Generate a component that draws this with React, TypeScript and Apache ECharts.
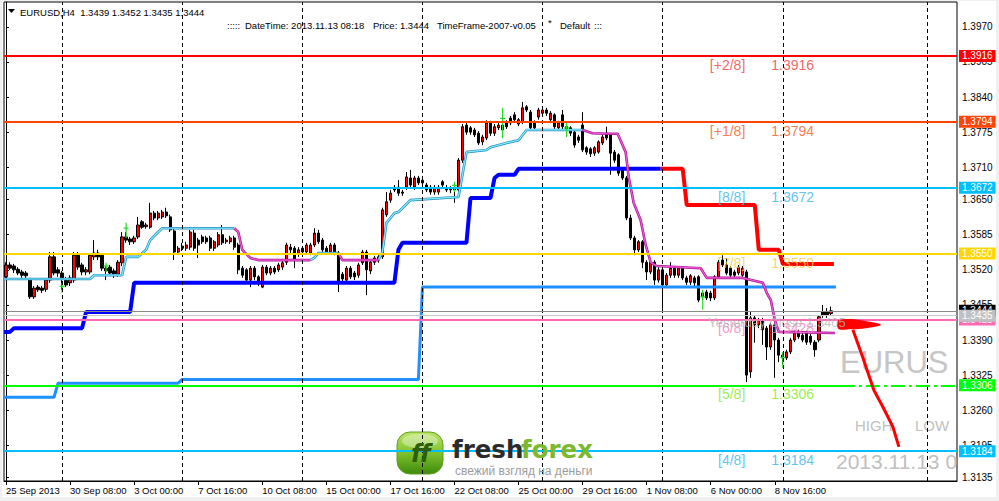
import { useEffect, useRef } from "react";
import * as echarts from "echarts";

// ---------------- DATA ----------------
const N_SLOTS = 238; // H4 bar slots visible on the chart (bars + right shift)
const xTickIndex = [0, 16, 32, 48, 64, 80, 96, 112, 128, 144, 160, 176, 192];
const xTickLabels = [
  "25 Sep 2013", "30 Sep 08:00", "3 Oct 00:00", "7 Oct 16:00", "10 Oct 08:00", "15 Oct 00:00",
  "17 Oct 16:00", "22 Oct 08:00", "25 Oct 00:00", "29 Oct 16:00", "1 Nov 08:00", "6 Nov 00:00", "8 Nov 16:00",
];
const yTickValues = [1.3135, 1.3195, 1.326, 1.3325, 1.339, 1.3455, 1.352, 1.3585, 1.365, 1.371, 1.3775, 1.384, 1.3905, 1.397];
const Y_MIN = 1.31289;
const Y_MAX = 1.4016;

// candles, in pips (1.xxxx -> xxxx)
const openPips = [
  3507, 3529, 3527, 3521, 3516, 3514, 3501, 3470, 3488, 3486,
  3484, 3501, 3544, 3520, 3514, 3501, 3496, 3501, 3547, 3529,
  3516, 3516, 3544, 3551, 3547, 3523, 3525, 3518, 3512, 3533,
  3581, 3577, 3572, 3581, 3609, 3600, 3599, 3625, 3616, 3618,
  3627, 3618, 3592, 3553, 3564, 3560, 3562, 3588, 3575, 3581,
  3579, 3579, 3560, 3566, 3585, 3572, 3572, 3579, 3566, 3523,
  3520, 3501, 3523, 3507, 3488, 3525, 3514, 3523, 3520, 3525,
  3534, 3562, 3560, 3549, 3560, 3553, 3551, 3566, 3588, 3575,
  3560, 3553, 3566, 3551, 3512, 3501, 3523, 3514, 3510, 3533,
  3553, 3518, 3534, 3538, 3544, 3622, 3649, 3673, 3673, 3664,
  3673, 3690, 3673, 3690, 3686, 3677, 3673, 3664, 3664, 3683,
  3672, 3668, 3672, 3668, 3723, 3788, 3783, 3779, 3773, 3757,
  3764, 3792, 3773, 3783, 3788, 3794, 3801, 3807, 3790, 3794,
  3822, 3812, 3794, 3803, 3810, 3816, 3798, 3807, 3783, 3807,
  3785, 3783, 3775, 3766, 3788, 3746, 3744, 3736, 3738, 3755,
  3773, 3770, 3738, 3733, 3705, 3690, 3616, 3579, 3557, 3572,
  3534, 3516, 3534, 3501, 3520, 3492, 3510, 3523, 3510, 3523,
  3505, 3497, 3505, 3507, 3470, 3479, 3477, 3468, 3507, 3538,
  3529, 3523, 3516, 3514, 3510, 3516, 3331, 3431, 3418, 3427,
  3412, 3377, 3418, 3390, 3362, 3357, 3368, 3390, 3405, 3399,
  3403, 3397, 3386, 3390, 3442, 3442, 3439,
];
const closePips = [
  3529, 3523, 3520, 3514, 3510, 3509, 3470, 3486, 3483, 3482,
  3501, 3544, 3514, 3514, 3505, 3492, 3505, 3547, 3525, 3516,
  3520, 3547, 3551, 3544, 3523, 3518, 3514, 3510, 3534, 3581,
  3575, 3572, 3579, 3603, 3599, 3603, 3625, 3616, 3625, 3627,
  3620, 3594, 3553, 3560, 3560, 3566, 3590, 3560, 3566, 3572,
  3572, 3560, 3572, 3585, 3570, 3575, 3579, 3562, 3520, 3510,
  3501, 3523, 3507, 3496, 3525, 3514, 3523, 3516, 3529, 3533,
  3566, 3557, 3538, 3557, 3553, 3566, 3566, 3588, 3572, 3557,
  3553, 3566, 3551, 3497, 3503, 3523, 3507, 3507, 3529, 3553,
  3520, 3534, 3542, 3544, 3631, 3646, 3662, 3668, 3662, 3662,
  3692, 3677, 3690, 3681, 3681, 3668, 3664, 3672, 3673, 3677,
  3668, 3672, 3668, 3723, 3785, 3775, 3775, 3770, 3755, 3766,
  3792, 3773, 3785, 3788, 3779, 3785, 3792, 3798, 3798, 3820,
  3816, 3783, 3783, 3816, 3816, 3810, 3810, 3785, 3792, 3785,
  3781, 3773, 3751, 3760, 3742, 3738, 3735, 3746, 3757, 3766,
  3764, 3736, 3723, 3699, 3690, 3616, 3579, 3557, 3572, 3534,
  3516, 3534, 3501, 3520, 3492, 3510, 3523, 3510, 3523, 3505,
  3497, 3509, 3496, 3464, 3477, 3468, 3468, 3507, 3534, 3529,
  3514, 3510, 3510, 3525, 3523, 3325, 3431, 3418, 3427, 3409,
  3377, 3418, 3390, 3362, 3357, 3368, 3390, 3405, 3396, 3390,
  3386, 3386, 3372, 3433, 3436, 3436, 3444,
];
const lowPips = [
  3501, 3520, 3514, 3510, 3505, 3505, 3466, 3466, 3479, 3477,
  3479, 3496, 3510, 3507, 3483, 3488, 3490, 3496, 3520, 3510,
  3510, 3512, 3538, 3538, 3518, 3501, 3509, 3505, 3507, 3527,
  3570, 3566, 3568, 3577, 3596, 3596, 3596, 3612, 3612, 3614,
  3616, 3590, 3538, 3549, 3555, 3555, 3557, 3555, 3542, 3568,
  3568, 3555, 3555, 3562, 3566, 3568, 3568, 3557, 3512, 3505,
  3496, 3488, 3501, 3490, 3486, 3510, 3510, 3512, 3516, 3520,
  3529, 3551, 3523, 3544, 3549, 3549, 3547, 3562, 3568, 3553,
  3549, 3549, 3547, 3479, 3497, 3496, 3503, 3501, 3505, 3529,
  3473, 3512, 3529, 3533, 3540, 3618, 3644, 3664, 3657, 3657,
  3668, 3673, 3668, 3677, 3677, 3664, 3659, 3659, 3659, 3673,
  3664, 3662, 3644, 3664, 3718, 3770, 3770, 3766, 3751, 3751,
  3760, 3768, 3768, 3779, 3764, 3781, 3788, 3794, 3786, 3790,
  3812, 3779, 3779, 3798, 3805, 3805, 3794, 3781, 3779, 3779,
  3776, 3768, 3746, 3755, 3738, 3733, 3729, 3731, 3735, 3751,
  3760, 3696, 3718, 3694, 3686, 3612, 3575, 3547, 3553, 3523,
  3501, 3512, 3492, 3496, 3446, 3486, 3505, 3505, 3505, 3501,
  3492, 3492, 3490, 3460, 3464, 3464, 3462, 3464, 3503, 3525,
  3510, 3505, 3505, 3510, 3507, 3312, 3320, 3385, 3412, 3381,
  3353, 3372, 3320, 3349, 3344, 3353, 3364, 3386, 3392, 3386,
  3381, 3381, 3359, 3386, 3431, 3431, 3435,
];
const highPips = [
  3534, 3534, 3531, 3525, 3520, 3518, 3505, 3490, 3492, 3490,
  3505, 3553, 3553, 3525, 3518, 3507, 3510, 3553, 3553, 3533,
  3525, 3551, 3575, 3557, 3551, 3527, 3529, 3522, 3538, 3590,
  3590, 3581, 3583, 3618, 3612, 3607, 3644, 3629, 3629, 3631,
  3635, 3622, 3596, 3564, 3570, 3572, 3594, 3594, 3579, 3585,
  3583, 3583, 3575, 3590, 3603, 3579, 3583, 3583, 3570, 3527,
  3523, 3527, 3527, 3510, 3529, 3529, 3527, 3527, 3533, 3538,
  3570, 3568, 3564, 3562, 3564, 3570, 3570, 3597, 3594, 3579,
  3564, 3570, 3570, 3555, 3516, 3527, 3527, 3518, 3533, 3557,
  3557, 3538, 3546, 3547, 3635, 3664, 3668, 3677, 3686, 3668,
  3701, 3705, 3694, 3694, 3690, 3681, 3677, 3677, 3677, 3686,
  3677, 3675, 3675, 3727, 3790, 3794, 3786, 3783, 3777, 3770,
  3797, 3796, 3790, 3794, 3792, 3797, 3805, 3812, 3801, 3831,
  3825, 3816, 3797, 3820, 3820, 3820, 3814, 3810, 3796, 3816,
  3790, 3786, 3779, 3770, 3812, 3749, 3747, 3749, 3760, 3770,
  3785, 3773, 3742, 3736, 3708, 3694, 3622, 3583, 3575, 3575,
  3538, 3540, 3538, 3525, 3525, 3514, 3534, 3527, 3527, 3527,
  3509, 3512, 3509, 3510, 3481, 3483, 3481, 3510, 3538, 3547,
  3542, 3527, 3520, 3529, 3527, 3520, 3442, 3436, 3431, 3431,
  3416, 3422, 3422, 3394, 3366, 3372, 3394, 3409, 3409, 3403,
  3407, 3401, 3390, 3436, 3455, 3449, 3452,
];

// indicator lines: [bar index, pips]
const blueStop = [[-0.5, 3405], [1, 3405], [2, 3412], [19, 3412], [20, 3442], [31, 3442], [32, 3496], [97, 3496], [98, 3557], [99, 3570], [115, 3570], [116, 3653], [121, 3653], [122, 3690], [123, 3696], [127, 3696], [128, 3707], [163.5, 3707]];
const redStop = [[163.5, 3707], [169, 3707], [170, 3640], [187, 3640], [188, 3557], [193, 3557], [194, 3531], [206.75, 3531]];
const dodgerStop = [[-0.5, 3284], [12, 3284], [13, 3310], [43, 3310], [44, 3317], [103, 3317], [104, 3488], [207.25, 3488]];
const trailUp1 = [[-0.5, 3503], [21, 3503], [22, 3510], [29, 3510], [30, 3544], [33, 3544], [35, 3557], [36, 3575], [38, 3590], [39, 3597], [57, 3597]];
const trailDown1 = [[57, 3597], [58, 3590], [59, 3557], [61, 3542], [63, 3538], [76, 3538]];
const trailUp2 = [[76, 3538], [77, 3542], [78, 3551], [83, 3551]];
const trailDown2 = [[83, 3551], [84, 3538], [93, 3538]];
const trailUp3 = [[93, 3538], [94, 3553], [95, 3607], [96, 3616], [97, 3625], [98, 3627], [99, 3634], [101, 3649], [113, 3655], [115, 3738], [120, 3742], [121, 3747], [125, 3755], [128, 3760], [130, 3779], [144, 3779]];
const trailDown3 = [[144, 3779], [146.5, 3773], [150, 3772], [152.75, 3772], [154.75, 3738], [155.5, 3692], [156.75, 3644], [158.5, 3612], [159.75, 3566], [161, 3534], [162.5, 3527], [173.5, 3523], [175, 3505], [184, 3505], [189, 3496], [190, 3477], [191, 3464], [192, 3427], [193, 3405], [207, 3403]];

// fractal markers: bar index, top pips, bottom pips
const fractalIdx = [14, 25, 30, 112, 124, 140, 174, 194];
const fractalTop = [3496, 3533, 3607, 3683, 3820, 3792, 3483, 3368];
const fractalBottom = [3477, 3516, 3579, 3664, 3764, 3766, 3446, 3338];

// forecast
const forecastLine = [[211.5, 3409], [214, 3357], [216.75, 3297], [219, 3266], [221.5, 3229], [223, 3192]];
const forecastWedge = [[207.5, 3420], [208, 3427], [211, 3429], [214.75, 3425], [218.5, 3418], [214.75, 3412], [211, 3410], [208, 3410]];

// week separators
const weekSeparatorIdx = [14, 44, 74, 104, 134, 164, 194, 230];

// Murrey levels
const levelNames = ["[+2/8]", "[+1/8]", "[8/8]", "[7/8]", "[6/8]", "[5/8]", "[4/8]"];
const levelValues = [1.3916, 1.3794, 1.3672, 1.355, 1.3428, 1.3306, 1.3184];
const bidPrice = 1.3444;
const lowPrice = 1.3435;
const yesterdayClose = 1.3405;
const dateTimeText = "2013.11.13 08:18";

// ---------------- STYLE ----------------
const FONT = '"Liberation Sans", Arial, sans-serif';
const levelLineColors = ["#FF0000", "#FF4500", "#00BFFF", "#FFD700", "#FF69B4", "#00FF00", "#00BFFF"];
const levelTextColors = ["#EE3B3B", "#F25A1E", "#36B4EE", "#F2CF45", "#F27EC0", "#80E81A", "#36B4EE"];
const LEVEL_NAME_IDX = 184.75;
const LEVEL_VALUE_IDX = 191;
const LIME_SOLID_END = 208.5;

const P = (pips: number) => Math.round((1 + pips / 10000) * 100000) / 100000;
const fmt = (v: number) => v.toFixed(4);

function buildOption() {
  const candles = openPips.map((o, i) => [P(o), P(closePips[i]), P(lowPips[i]), P(highPips[i])]);
  const categories = Array.from({ length: N_SLOTS }, (_, i) => String(i));
  const last = candles.length - 1;
  const header1 = `EURUSD,H4  ${fmt(P(openPips[last]))} ${fmt(P(highPips[last]))} ${fmt(P(lowPips[last]))} ${fmt(P(closePips[last]))}`;

  const tag = (bg: string) => ({
    show: true, position: "end", distance: 2, color: "#FFFFFF", backgroundColor: bg,
    padding: [1, 3, 1, 3], fontSize: 10, fontFamily: FONT, lineHeight: 10,
  });

  const line = (pts: number[][], color: string, width: number, z: number) => ({
    type: "line", xAxisIndex: 1, yAxisIndex: 0, silent: true, symbol: "none", z,
    data: pts.map(([x, v]) => [x, P(v)]), lineStyle: { color, width }, animation: false,
  });

  const trail: any[] = [];
  const ups = [trailUp1, trailUp2, trailUp3];
  const downs = [trailDown1, trailDown2, trailDown3];
  ups.forEach((s) => { trail.push(line(s, "#2C86BC", 2.6, 3)); trail.push(line(s, "#7DF2FF", 1.2, 3)); });
  downs.forEach((s) => { trail.push(line(s, "#A3168C", 2.6, 3)); trail.push(line(s, "#F25ADC", 1.2, 3)); });

  const levelMarks: any[] = [];
  levelValues.forEach((v, k) => {
    if (k === 5) {
      levelMarks.push([
        { coord: [-0.5, v], lineStyle: { color: levelLineColors[k], width: 2, type: "solid" }, label: { show: false } },
        { coord: [LIME_SOLID_END, v] },
      ]);
      levelMarks.push([
        { coord: [LIME_SOLID_END, v], lineStyle: { color: levelLineColors[k], width: 2, type: [14, 4, 3, 4] }, label: { ...tag(levelLineColors[k]), formatter: fmt(v) } },
        { coord: [N_SLOTS - 0.5, v] },
      ]);
    } else {
      levelMarks.push({ yAxis: v, lineStyle: { color: levelLineColors[k], width: 2, type: "solid" }, label: { ...tag(levelLineColors[k]), formatter: fmt(v) } });
    }
  });

  const levelText = levelValues.map((v, k) => ({
    type: "scatter", xAxisIndex: 1, yAxisIndex: 0, silent: true, z: 9, symbolSize: 1,
    itemStyle: { color: "rgba(0,0,0,0)" },
    data: [
      { value: [LEVEL_NAME_IDX, v], label: { show: true, position: "left", distance: 0, offset: [0, 9], formatter: levelNames[k], color: levelTextColors[k], fontSize: 14, fontFamily: FONT } },
      { value: [LEVEL_VALUE_IDX, v], label: { show: true, position: "right", distance: 0, offset: [0, 9], formatter: fmt(v), color: levelTextColors[k], fontSize: 14, fontFamily: FONT } },
    ],
  }));

  const txt = (x: number, y: number, text: string, size: number, fill = "#000000", extra: any = {}) => ({
    type: "text", silent: true, z: extra.z ?? 20,
    style: {
      text, x, y, fill, fontSize: size, fontFamily: extra.fontFamily ?? FONT, fontWeight: extra.fontWeight ?? "normal",
      fontStyle: extra.fontStyle ?? "normal", align: extra.align ?? "left", textAlign: extra.align ?? "left",
      verticalAlign: "middle", textVerticalAlign: "middle",
    },
  });

  const grey = "#F0F0F0";
  const mark = (data: any[]) => ({ silent: true, symbol: ["none", "none"], precision: 5, data });

  return {
    animation: false,
    backgroundColor: "#FFFFFF",
    grid: { left: 4, right: 42, top: 2, bottom: 20, show: true, borderColor: "#000000", borderWidth: 1, backgroundColor: "#FFFFFF" },
    xAxis: [
      {
        type: "category", data: categories, boundaryGap: true, gridIndex: 0,
        axisLine: { show: true, lineStyle: { color: "#000000", width: 1 } },
        axisTick: { show: true, alignWithLabel: true, length: 4, interval: (idx: number) => xTickIndex.includes(idx), lineStyle: { color: "#000000" } },
        axisLabel: {
          show: true, interval: (idx: number) => xTickIndex.includes(idx), align: "left", margin: 4,
          color: "#000000", fontSize: 9.5, fontFamily: FONT,
          formatter: (_v: string, idx: number) => { const k = xTickIndex.indexOf(idx); return k >= 0 ? xTickLabels[k] : ""; },
        },
        splitLine: { show: false },
      },
      { type: "value", min: -0.5, max: N_SLOTS - 0.5, show: false, gridIndex: 0 },
    ],
    yAxis: {
      type: "value", position: "right", min: Y_MIN, max: Y_MAX, scale: true,
      splitLine: { show: false },
      axisLine: { show: true, lineStyle: { color: "#000000", width: 1 } },
      axisTick: { show: true, length: 3, customValues: yTickValues, lineStyle: { color: "#000000" } },
      axisLabel: { show: true, customValues: yTickValues, formatter: (v: number) => fmt(v), color: "#000000", fontSize: 10, fontFamily: FONT, margin: 5 },
    },
    series: [
      {
        type: "line", xAxisIndex: 1, yAxisIndex: 0, silent: true, z: 1, symbol: "none",
        data: [[-0.5, P(3500)]], lineStyle: { opacity: 0 },
        markLine: {
          ...mark(weekSeparatorIdx.map((x) => ({ xAxis: x }))),
          label: { show: false },
          lineStyle: { color: "#000000", width: 1, type: [4, 3] },
        },
      },
      {
        type: "candlestick", xAxisIndex: 0, yAxisIndex: 0, silent: true, z: 2, data: candles, barWidth: 2.8,
        itemStyle: { color: "#FF0000", color0: "#000000", borderColor: "#000000", borderColor0: "#000000", borderWidth: 1 },
      },
      line(dodgerStop, "#1E90FF", 3, 3),
      line(blueStop, "#0000FF", 4, 3),
      line(redStop, "#FF0000", 4, 3),
      ...trail,
      {
        type: "custom", xAxisIndex: 1, yAxisIndex: 0, silent: true, z: 4,
        data: fractalIdx.map((x, k) => [x, P(fractalTop[k]), P(fractalBottom[k])]),
        encode: { x: 0, y: [1, 2] },
        renderItem: (_params: any, api: any) => {
          const x = api.value(0);
          const a = api.coord([x, api.value(1)]);
          const b = api.coord([x, api.value(2)]);
          const cy = a[1] + (b[1] - a[1]) * 0.35;
          return {
            type: "group",
            children: [
              { type: "line", shape: { x1: a[0], y1: a[1], x2: b[0], y2: b[1] }, style: { stroke: "#22DD22", lineWidth: 1.2 } },
              { type: "line", shape: { x1: a[0] - 2.5, y1: cy, x2: a[0] + 2.5, y2: cy }, style: { stroke: "#22DD22", lineWidth: 1.2 } },
            ],
          };
        },
      },
      {
        type: "line", xAxisIndex: 1, yAxisIndex: 0, silent: true, z: 6, symbol: "none",
        data: [[-0.5, bidPrice]], lineStyle: { opacity: 0 },
        markLine: mark([{ yAxis: bidPrice, lineStyle: { color: "#8A8A8A", width: 1, type: "solid" }, label: { ...tag("#000000"), formatter: fmt(bidPrice) } }]),
      },
      {
        type: "line", xAxisIndex: 1, yAxisIndex: 0, silent: true, z: 7, symbol: "none",
        data: [[-0.5, 1.35]], lineStyle: { opacity: 0 },
        markLine: mark(levelMarks),
      },
      {
        type: "line", xAxisIndex: 1, yAxisIndex: 0, silent: true, z: 8, symbol: "none",
        data: [[-0.5, lowPrice]], lineStyle: { opacity: 0 },
        markLine: mark([{ yAxis: lowPrice, lineStyle: { color: "#C8C8C8", width: 1, type: "solid" }, label: { ...tag("#C0C0C0"), formatter: fmt(lowPrice) } }]),
      },
      ...levelText,
      {
        type: "scatter", xAxisIndex: 1, yAxisIndex: 0, silent: true, z: 10, symbolSize: 1, itemStyle: { color: "rgba(0,0,0,0)" },
        data: [{ value: [175.25, levelValues[4]], label: { show: true, position: "right", distance: 0, offset: [0, 3], formatter: `Yesterday Close ${fmt(yesterdayClose)}`, color: "#B4B4B4", fontSize: 13, fontFamily: FONT } }],
      },
      {
        type: "custom", xAxisIndex: 1, yAxisIndex: 0, silent: true, z: 5,
        data: [[forecastWedge[0][0], P(forecastWedge[0][1])]],
        encode: { x: 0, y: 1 },
        renderItem: (_params: any, api: any) => ({
          type: "polygon",
          shape: { points: forecastWedge.map(([x, v]) => api.coord([x, P(v)])), smooth: 0.3 },
          style: { fill: "#FF0000" },
        }),
      },
      line(forecastLine, "#FF0000", 3, 5),
    ],
    graphic: [
      { type: "rect", silent: true, z: 30, shape: { x: 0, y: 0, width: 999, height: 1 }, style: { fill: grey } },
      { type: "rect", silent: true, z: 30, shape: { x: 0, y: 0, width: 2, height: 501 }, style: { fill: grey } },
      { type: "rect", silent: true, z: 30, shape: { x: 996, y: 0, width: 3, height: 501 }, style: { fill: grey } },
      { type: "rect", silent: true, z: 30, shape: { x: 0, y: 497, width: 999, height: 4 }, style: { fill: grey } },
      // header
      { type: "polygon", silent: true, z: 20, shape: { points: [[8, 9], [15, 9], [11.5, 13]] }, style: { fill: "#000000" } },
      txt(20, 12, header1, 9.5),
      txt(227, 25, ":::::", 9.5),
      txt(245, 25, `DateTime: ${dateTimeText}`, 9.5),
      txt(373, 25, `Price: ${fmt(P(closePips[last]))}`, 9.5),
      txt(437, 25, "TimeFrame-2007-v0.05", 9.5),
      txt(548, 22, "*", 9.5),
      txt(560, 25, "Default", 9.5),
      txt(594, 25, ":::", 9.5),
      // watermarks
      txt(840, 362, "EURUS", 31, "#C6C6C6", { z: 1 }),
      txt(855, 425, "HIGH", 15, "#C0C0C0", { z: 1 }),
      txt(915, 425, "LOW", 15, "#C0C0C0", { z: 1 }),
      txt(836, 461, "2013.11.13 0", 21, "#C0C0C0", { z: 1 }),
      // logo
      {
        type: "group", silent: true, z: 100,
        children: [
          {
            type: "rect", shape: { x: 397, y: 432, width: 46, height: 42, r: 13 },
            style: {
              fill: new echarts.graphic.LinearGradient(0, 0, 0, 1, [
                { offset: 0, color: "#BDE56A" }, { offset: 0.5, color: "#7FC22C" }, { offset: 1, color: "#3E8A0B" },
              ]),
              stroke: "#5E9E1E", lineWidth: 1,
            },
          },
          { type: "ellipse", shape: { cx: 420, cy: 441, rx: 18, ry: 7 }, style: { fill: "rgba(255,255,255,0.35)" } },
          txt(421, 454, "ff", 24, "#2E5E0A", { fontWeight: "bold", fontStyle: "italic", align: "center", fontFamily: '"DejaVu Sans", sans-serif', z: 100 }),
          txt(452, 449, "fresh", 24.5, "#2B2B2B", { fontWeight: "bold", fontFamily: '"DejaVu Sans", sans-serif', z: 100 }),
          txt(521, 449, "forex", 24.5, "#7DB92F", { fontWeight: "bold", fontFamily: '"DejaVu Sans", sans-serif', z: 100 }),
          txt(455, 471, "свежий взгляд на деньги", 12, "#9C9C9C", { z: 100 }),
        ],
      },
    ],
  };
}

export default function App() {
  const ref = useRef<HTMLDivElement>(null);
  useEffect(() => {
    document.body.style.margin = "0";
    const chart = echarts.init(ref.current as HTMLDivElement, undefined, { renderer: "svg", width: 999, height: 501 });
    chart.setOption(buildOption() as any);
    return () => chart.dispose();
  }, []);
  return <div ref={ref} style={{ position: "absolute", left: 0, top: 0, width: 999, height: 501 }} />;
}
